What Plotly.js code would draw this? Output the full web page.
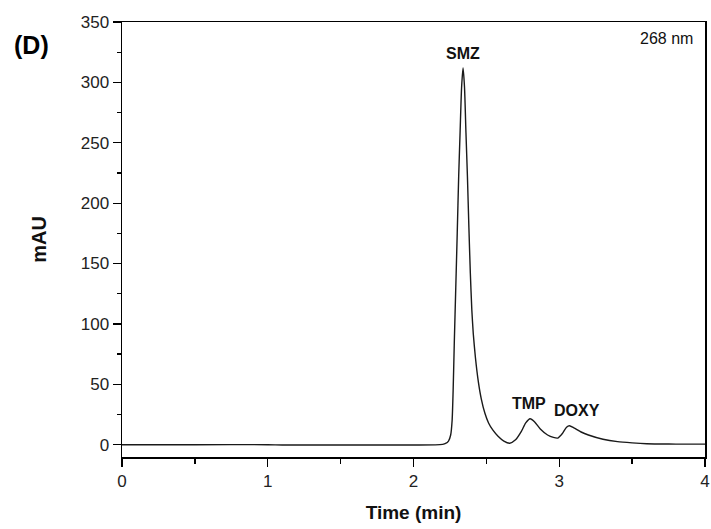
<!DOCTYPE html>
<html>
<head>
<meta charset="utf-8">
<script src="https://cdn.plot.ly/plotly-3.0.1.min.js"></script>
<style>html,body{margin:0;padding:0;background:#fff;}#chart{width:711px;height:529px;}</style>
</head>
<body>
<div id="chart"></div>
<script>
// Retention time (min)
const timeMin = [0, 0.5, 1.0, 1.1, 1.5, 2.0, 2.15, 2.20, 2.22, 2.24, 2.255, 2.265, 2.272, 2.28, 2.29, 2.30, 2.31, 2.32, 2.33, 2.34, 2.35, 2.36, 2.37, 2.38, 2.39, 2.40, 2.41, 2.425, 2.445, 2.465, 2.49, 2.515, 2.545, 2.58, 2.62, 2.66, 2.70, 2.74, 2.77, 2.80, 2.83, 2.87, 2.92, 2.96, 2.99, 3.02, 3.05, 3.07, 3.10, 3.15, 3.20, 3.30, 3.40, 3.50, 3.60, 3.70, 3.80, 4.00];
// Absorbance (mAU) at 268 nm
const absorbance = [0, 0, 0, -0.3, -0.3, -0.3, -0.2, 0.3, 1, 3, 8, 20, 45, 85, 130, 175, 222, 260, 296, 312, 296, 258, 222, 180, 142, 112, 92, 72, 52, 38, 26, 18, 12, 7, 3, 1.2, 4, 11, 18, 21.5, 19, 13, 8, 6, 5.5, 9, 14.5, 15.7, 14, 10.5, 8, 4.5, 2.5, 1.5, 0.8, 0.6, 0.5, 0.5];
// Peak labels
const peakNames = ["SMZ", "TMP", "DOXY"];
const peakTimes = [2.34, 2.793, 3.119];
const peakLabelY = [324, 34, 28];
const xTickVals = [0, 1, 2, 3, 4];
const yTickVals = [0, 50, 100, 150, 200, 250, 300, 350];

const trace = {
  x: timeMin, y: absorbance, type: 'scatter', mode: 'lines',
  line: {color: '#1a1a1a', width: 1.4, shape: 'spline', smoothing: 0.6},
  hoverinfo: 'skip'
};

const annotations = peakNames.map((n, i) => ({
  x: peakTimes[i], y: peakLabelY[i], xref: 'x', yref: 'y', text: n, showarrow: false,
  font: {family: 'Liberation Sans, Arial, sans-serif', size: 16, color: '#111', weight: 'bold'},
  xanchor: 'center', yanchor: 'middle'
}));
annotations.push({
  x: 0.983, y: 0.9616, xref: 'paper', yref: 'paper', text: '268 nm', showarrow: false,
  font: {family: 'Liberation Sans, Arial, sans-serif', size: 16, color: '#111'},
  xanchor: 'right', yanchor: 'middle'
});
annotations.push({
  x: -0.156, y: 0.948, xref: 'paper', yref: 'paper', text: '(D)', showarrow: false,
  font: {family: 'Liberation Sans, Arial, sans-serif', size: 25, color: '#000', weight: 'bold'},
  xanchor: 'center', yanchor: 'middle'
});

const axisCommon = {
  showline: true, mirror: true, linecolor: '#000', linewidth: 1.5,
  ticks: 'outside', ticklen: 8, tickwidth: 1.3, tickcolor: '#000',
  showgrid: false, zeroline: false,
  tickfont: {family: 'Liberation Sans, Arial, sans-serif', size: 17, color: '#222'}
};

const layout = {
  width: 711, height: 529,
  margin: {l: 122, r: 6, t: 22, b: 72},
  paper_bgcolor: '#fff', plot_bgcolor: '#fff',
  showlegend: false,
  xaxis: Object.assign({}, axisCommon, {
    range: [0, 4], tickvals: xTickVals, ticktext: xTickVals.map(String),
    minor: {dtick: 0.5, tick0: 0, ticks: 'outside', ticklen: 5, tickwidth: 1.3, tickcolor: '#000', showgrid: false},
    title: {text: 'Time (min)', standoff: 16, font: {family: 'Liberation Sans, Arial, sans-serif', size: 19, color: '#111', weight: 'bold'}}
  }),
  yaxis: Object.assign({}, axisCommon, {
    range: [-10.2, 350], tickvals: yTickVals, ticktext: yTickVals.map(String),
    minor: {dtick: 25, tick0: 0, ticks: 'outside', ticklen: 4, tickwidth: 1.3, tickcolor: '#000', showgrid: false},
    title: {text: 'mAU', standoff: 28, font: {family: 'Liberation Sans, Arial, sans-serif', size: 20, color: '#111', weight: 'bold'}}
  }),
  annotations: annotations
};

Plotly.newPlot('chart', [trace], layout, {displayModeBar: false, staticPlot: true});
</script>
</body>
</html>
